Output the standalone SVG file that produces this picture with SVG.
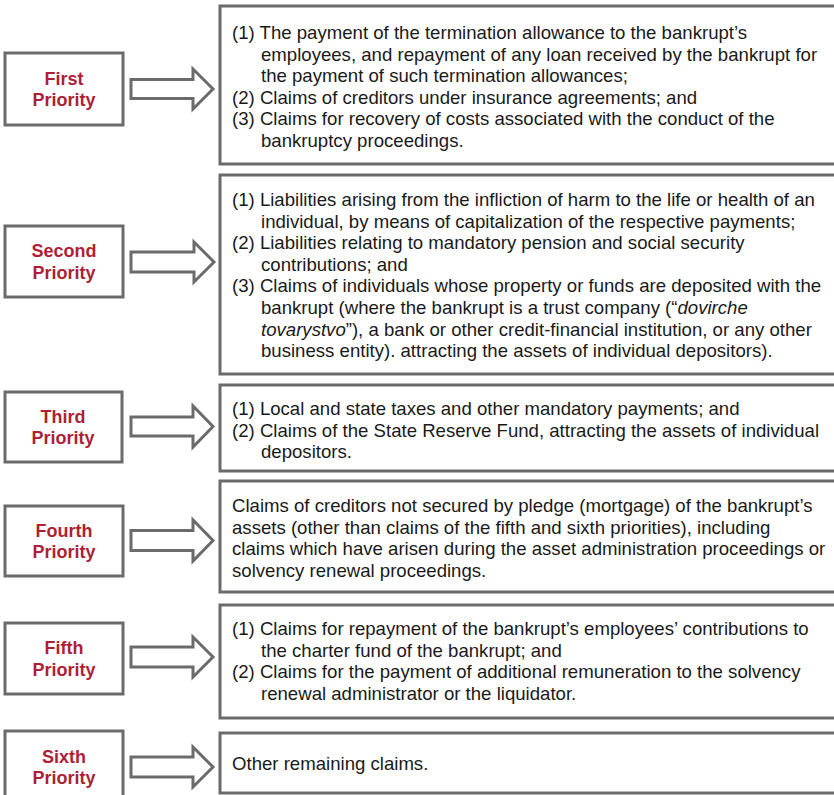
<svg xmlns="http://www.w3.org/2000/svg" width="834" height="795" viewBox="0 0 834 795">
  <style>
    .box { fill: #ffffff; stroke: #6b6b6b; stroke-width: 3; }
    .arrow { fill: #ffffff; stroke: #6b6b6b; stroke-width: 3; stroke-linejoin: miter; }
    .label { font-family: "Liberation Sans", Arial, sans-serif; font-size: 18px; font-weight: bold; fill: #ae1f37; text-anchor: middle; }
    .body { font-family: "Liberation Sans", Arial, sans-serif; font-size: 18.6px; fill: #1a1a1a; }
    .it { font-style: italic; }
  </style>
  <rect width="834" height="795" fill="#ffffff"/>

  <!-- Priority ranks (left column) -->
  <g id="first-priority">
    <rect class="box" x="5" y="53" width="118" height="72"/>
    <text class="label" x="64" y="84.7">First</text>
    <text class="label" x="64" y="106.3">Priority</text>
  </g>
  <g id="second-priority">
    <rect class="box" x="5" y="226" width="118" height="71"/>
    <text class="label" x="64" y="257.2">Second</text>
    <text class="label" x="64" y="278.8">Priority</text>
  </g>
  <g id="third-priority">
    <rect class="box" x="5" y="392" width="117" height="70"/>
    <text class="label" x="63" y="422.7">Third</text>
    <text class="label" x="63" y="444.3">Priority</text>
  </g>
  <g id="fourth-priority">
    <rect class="box" x="5" y="506" width="118" height="70"/>
    <text class="label" x="64" y="536.7">Fourth</text>
    <text class="label" x="64" y="558.3">Priority</text>
  </g>
  <g id="fifth-priority">
    <rect class="box" x="5" y="623" width="118" height="71"/>
    <text class="label" x="64" y="654.2">Fifth</text>
    <text class="label" x="64" y="675.8">Priority</text>
  </g>
  <g id="sixth-priority">
    <rect class="box" x="5" y="731" width="118" height="72"/>
    <text class="label" x="64" y="762.7">Sixth</text>
    <text class="label" x="64" y="784.3">Priority</text>
  </g>

  <!-- Block arrows linking each rank to its claims -->
  <g id="connectors">
    <path class="arrow" d="M131,79.5 H193 V69 L213,89 L193,109 V98.5 H131 Z"/>
    <path class="arrow" d="M131,252 H194 V242 L214,262 L194,282 V272 H131 Z"/>
    <path class="arrow" d="M131,417 H193 V406 L213,426.5 L193,447 V436 H131 Z"/>
    <path class="arrow" d="M131,530.5 H193 V520 L213,540.5 L193,561 V550.5 H131 Z"/>
    <path class="arrow" d="M131,647 H193 V637 L213,657 L193,677 V667 H131 Z"/>
    <path class="arrow" d="M131,757 H193 V747 L213,767 L193,787 V777 H131 Z"/>
  </g>

  <!-- Claim descriptions (right column) -->
  <g id="first-claims">
    <rect class="box" x="220" y="6" width="640" height="158"/>
    <text class="body" x="232" y="39">(1) The payment of the termination allowance to the bankrupt’s</text>
    <text class="body" x="261" y="60.6">employees, and repayment of any loan received by the bankrupt for</text>
    <text class="body" x="261" y="82.2">the payment of such termination allowances;</text>
    <text class="body" x="232" y="103.8">(2) Claims of creditors under insurance agreements; and</text>
    <text class="body" x="232" y="125.4">(3) Claims for recovery of costs associated with the conduct of the</text>
    <text class="body" x="261" y="147">bankruptcy proceedings.</text>
  </g>
  <g id="second-claims">
    <rect class="box" x="220" y="175" width="640" height="199"/>
    <text class="body" x="232" y="206">(1) Liabilities arising from the infliction of harm to the life or health of an</text>
    <text class="body" x="261" y="227.6">individual, by means of capitalization of the respective payments;</text>
    <text class="body" x="232" y="249.2">(2) Liabilities relating to mandatory pension and social security</text>
    <text class="body" x="261" y="270.8">contributions; and</text>
    <text class="body" x="232" y="292.4">(3) Claims of individuals whose property or funds are deposited with the</text>
    <text class="body" x="261" y="314">bankrupt (where the bankrupt is a trust company (“<tspan class="it">dovirche</tspan></text>
    <text class="body" x="261" y="335.6"><tspan class="it">tovarystvo</tspan>”), a bank or other credit-financial institution, or any other</text>
    <text class="body" x="261" y="357.2">business entity). attracting the assets of individual depositors).</text>
  </g>
  <g id="third-claims">
    <rect class="box" x="220" y="385" width="640" height="86"/>
    <text class="body" x="232" y="415">(1) Local and state taxes and other mandatory payments; and</text>
    <text class="body" x="232" y="436.6">(2) Claims of the State Reserve Fund, attracting the assets of individual</text>
    <text class="body" x="261" y="458.2">depositors.</text>
  </g>
  <g id="fourth-claims">
    <rect class="box" x="220" y="481" width="640" height="111"/>
    <text class="body" x="232" y="512">Claims of creditors not secured by pledge (mortgage) of the bankrupt’s</text>
    <text class="body" x="232" y="533.6">assets (other than claims of the fifth and sixth priorities), including</text>
    <text class="body" x="232" y="555.2">claims which have arisen during the asset administration proceedings or</text>
    <text class="body" x="232" y="576.8">solvency renewal proceedings.</text>
  </g>
  <g id="fifth-claims">
    <rect class="box" x="220" y="605" width="640" height="113"/>
    <text class="body" x="232" y="635">(1) Claims for repayment of the bankrupt’s employees’ contributions to</text>
    <text class="body" x="261" y="656.6">the charter fund of the bankrupt; and</text>
    <text class="body" x="232" y="678.2">(2) Claims for the payment of additional remuneration to the solvency</text>
    <text class="body" x="261" y="699.8">renewal administrator or the liquidator.</text>
  </g>
  <g id="sixth-claims">
    <rect class="box" x="220" y="733" width="640" height="60"/>
    <text class="body" x="232" y="770">Other remaining claims.</text>
  </g>
</svg>
